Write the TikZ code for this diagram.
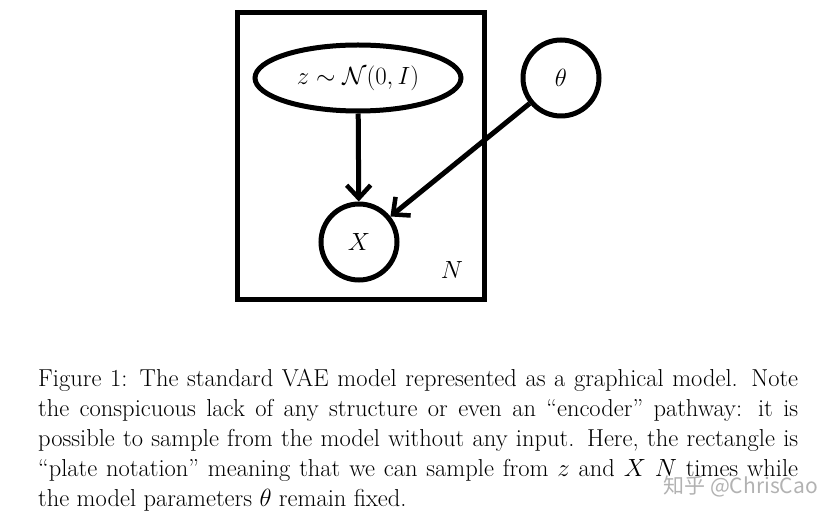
\documentclass[tikz,border=0pt]{standalone}
\usepackage{fontspec}
\newfontfamily\cjk{Noto Sans CJK SC}
\usetikzlibrary{arrows.meta,shapes.geometric}
\begin{document}
\begin{tikzpicture}[x=1pt,y=-1pt,
  thickline/.style={line width=5pt},
  arr/.style={thickline,-{Straight Barb[length=13pt,width=24pt,line width=4.5pt]}},
  captext/.style={anchor=base west,inner sep=0pt,font=\fontsize{24.5}{30}\selectfont},
  big/.style={font=\fontsize{40}{44}\selectfont}]
\useasboundingbox (0,0) rectangle (836,518);
\draw[thickline] (237,13) rectangle (484,300);
\node[thickline,draw,ellipse,minimum width=206pt,minimum height=66pt,inner sep=0pt,big] (z) at (358,78) {$z\sim\mathcal{N}(0,I)$};
\node[thickline,draw,circle,minimum size=76pt,inner sep=0pt,big] (t) at (561,78) {$\theta$};
\node[thickline,draw,circle,minimum size=76pt,inner sep=0pt,big] (x) at (359,242) {$X$};
\node[big] (n) at (452,270) {$N$};
\draw[arr] (z) -- (x);
\draw[arr] (t) -- (x);
\node[captext] (c1) at (38,387) {\makebox[760pt][s]{Figure 1: The standard VAE model represented as a graphical model. Note}};
\node[captext] (c2) at (38,417) {\makebox[760pt][s]{the conspicuous lack of any structure or even an ``encoder'' pathway: it is}};
\node[captext] (c3) at (38,447) {\makebox[760pt][s]{possible to sample from the model without any input. Here, the rectangle is}};
\node[captext] (c4) at (38,477) {\makebox[760pt][s]{``plate notation'' meaning that we can sample from $z$ and $X$ $N$ times while}};
\node[captext] (c5) at (38,507) {the model parameters $\theta$ remain fixed.};
\node[anchor=base east,inner sep=0pt,text=gray!60,font=\fontsize{21}{24}\cjk] (w) at (818,494) {知乎 @ChrisCao};
\end{tikzpicture}
\end{document}
